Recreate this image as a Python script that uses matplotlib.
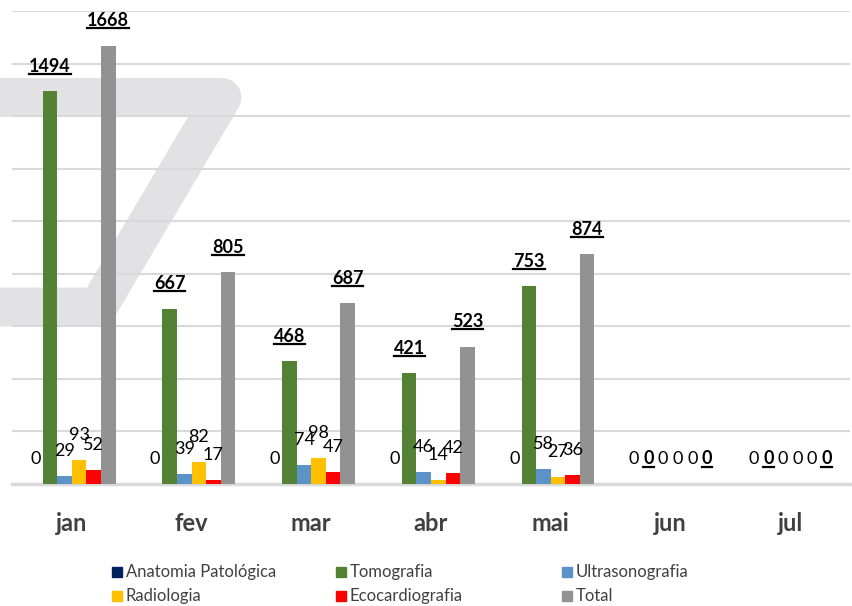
import matplotlib
matplotlib.use("Agg")
import matplotlib.pyplot as plt
import matplotlib.patches as patches
from matplotlib.lines import Line2D
import numpy as np

plt.rcParams['font.family'] = ['Lato', 'DejaVu Sans']

months = ['jan', 'fev', 'mar', 'abr', 'mai', 'jun', 'jul']
series = ['Anatomia Patológica', 'Tomografia', 'Ultrasonografia',
          'Radiologia', 'Ecocardiografia', 'Total']
anatomia = [0, 0, 0, 0, 0, 0, 0]
tomografia = [1494, 667, 468, 421, 753, 0, 0]
ultrasonografia = [29, 39, 74, 46, 58, 0, 0]
radiologia = [93, 82, 98, 14, 27, 0, 0]
ecocardiografia = [52, 17, 47, 42, 36, 0, 0]
total = [1668, 805, 687, 523, 874, 0, 0]

colors = ['#002060', '#548235', '#5b92c8', '#ffc000', '#ff0000', '#929292']
bold = [False, True, False, False, False, True]
values = [anatomia, tomografia, ultrasonografia, radiologia, ecocardiografia, total]

W, H = 853, 606
fig = plt.figure(figsize=(W / 100, H / 100), dpi=100)

# background layer in pixel coords (watermark + legend)
bg = fig.add_axes([0, 0, 1, 1], zorder=0)
bg.set_xlim(0, W)
bg.set_ylim(H, 0)
bg.axis('off')
bg.plot([0, 222, 98, 0], [97.5, 97.5, 307, 307], color='#e2e2e5', lw=28,
        solid_joinstyle='round', solid_capstyle='butt')

ax = fig.add_axes([12 / W, 1 - 484 / H, 838 / W, (484 - 11) / H], zorder=1)
ax.set_facecolor('none')

n = len(series)
bw = 0.1217
x = np.arange(len(months))
bold_texts = []
for j in range(n):
    pos = x + (j - (n - 1) / 2) * bw
    ax.bar(pos, values[j], bw, color=colors[j], zorder=3)
    for px, v in zip(pos, values[j]):
        t = ax.annotate(str(v), (px, v), xytext=(0, 18), textcoords='offset points',
                        ha='center', va='center', fontsize=13, color='black',
                        fontweight='bold' if bold[j] else 'normal', zorder=4)
        if bold[j]:
            bold_texts.append(t)

ax.set_xlim(-0.5, len(months) - 0.5)
ax.set_ylim(0, 1800)
ax.set_yticks(np.arange(0, 1801, 200))
ax.yaxis.grid(True, color='#d9d9d9', lw=1.5, zorder=0)
ax.tick_params(axis='y', length=0, labelleft=False)
ax.set_xticks(x)
ax.set_xticklabels(months, fontsize=17, fontweight='bold', color='#404040')
ax.tick_params(axis='x', length=0, pad=20)
for s in ['top', 'left', 'right']:
    ax.spines[s].set_visible(False)
ax.spines['bottom'].set_color('#d9d9d9')
ax.spines['bottom'].set_linewidth(2.5)

# legend drawn by hand so the three columns sit at even spacing
col_x = [112, 336, 562]
row_y = [572, 596]
order = [[0, 1, 2], [3, 4, 5]]
for r, row in enumerate(order):
    for c, k in enumerate(row):
        bg.add_patch(patches.Rectangle((col_x[c], row_y[r] - 5), 10, 10,
                                       color=colors[k]))
        bg.text(col_x[c] + 14, row_y[r], series[k], fontsize=12,
                color='#404040', va='center', ha='left')

# underline the bold labels
fig.canvas.draw()
inv = fig.transFigure.inverted()
for t in bold_texts:
    bb = t.get_window_extent()
    (x0, y0), (x1, _) = inv.transform([(bb.x0, bb.y0 + 1), (bb.x1, bb.y0 + 1)])
    fig.add_artist(Line2D([x0, x1], [y0, y0], color='black', lw=1.6,
                          transform=fig.transFigure, zorder=5))

fig.savefig('out.png', dpi=100)
